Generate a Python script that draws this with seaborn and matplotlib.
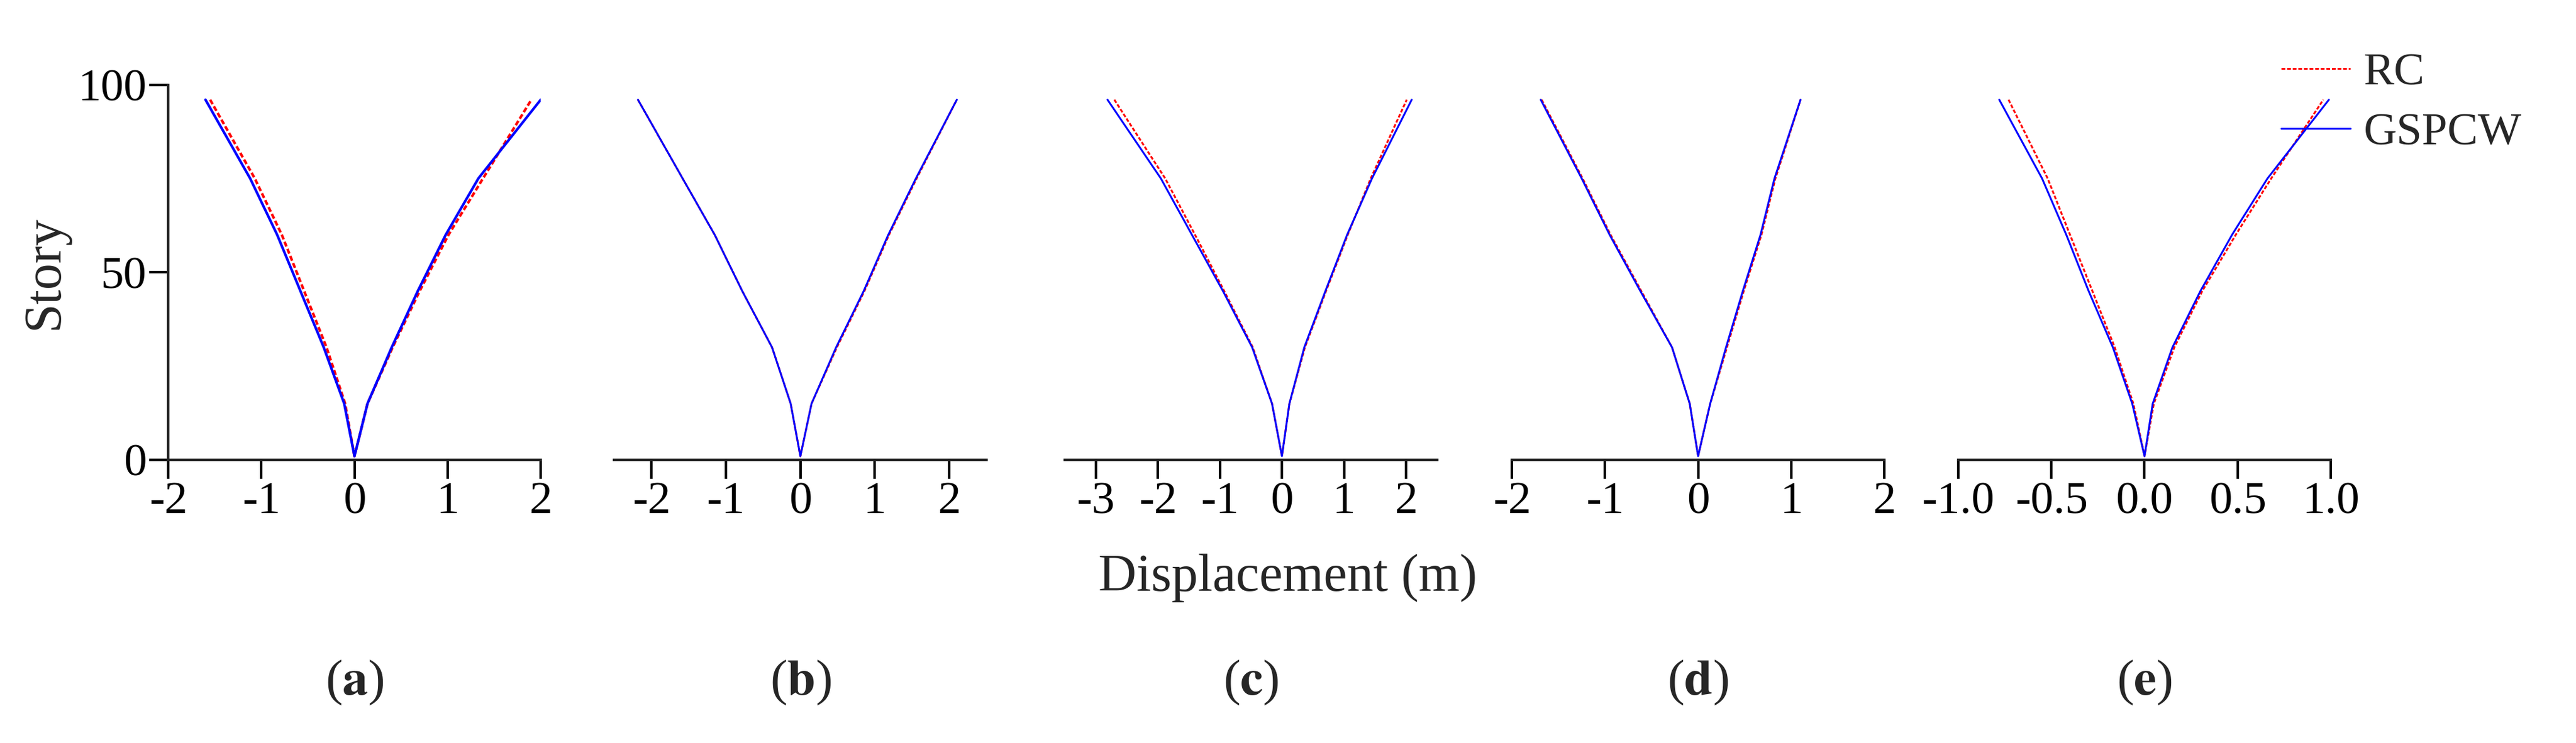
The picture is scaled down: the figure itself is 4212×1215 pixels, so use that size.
import numpy as np
import pandas as pd
import matplotlib
matplotlib.use("Agg")
import matplotlib.pyplot as plt
import seaborn as sns

sns.set_theme(style="ticks")
plt.rcParams['font.family'] = ['Liberation Serif', 'DejaVu Serif']
plt.rcParams['mathtext.fontset'] = 'stix'

stories = [1, 15, 30, 45, 60, 75, 96]
panels = ["a", "b", "c", "d", "e"]
gsp_left = {
    "a": [0, -0.11, -0.33, -0.58, -0.83, -1.12, -1.60],
    "b": [0, -0.13, -0.38, -0.78, -1.15, -1.58, -2.18],
    "c": [0, -0.16, -0.48, -0.95, -1.45, -1.95, -2.81],
    "d": [0, -0.09, -0.28, -0.62, -0.95, -1.25, -1.69],
    "e": [0, -0.066, -0.17, -0.30, -0.42, -0.55, -0.78],
}
gsp_right = {
    "a": [0, 0.14, 0.40, 0.68, 0.98, 1.33, 2.00],
    "b": [0, 0.15, 0.48, 0.85, 1.18, 1.55, 2.10],
    "c": [0, 0.12, 0.36, 0.70, 1.05, 1.45, 2.09],
    "d": [0, 0.13, 0.30, 0.48, 0.67, 0.82, 1.10],
    "e": [0, 0.044, 0.15, 0.30, 0.47, 0.66, 0.99],
}
rc_left = {
    "a": [0, -0.10, -0.30, -0.54, -0.78, -1.07, -1.55],
    "b": [0, -0.13, -0.38, -0.78, -1.15, -1.58, -2.18],
    "c": [0, -0.16, -0.47, -0.93, -1.40, -1.88, -2.70],
    "d": [0, -0.09, -0.28, -0.61, -0.94, -1.24, -1.68],
    "e": [0, -0.06, -0.16, -0.28, -0.40, -0.52, -0.73],
}
rc_right = {
    "a": [0, 0.14, 0.41, 0.70, 1.01, 1.38, 1.90],
    "b": [0, 0.15, 0.49, 0.86, 1.19, 1.56, 2.10],
    "c": [0, 0.12, 0.37, 0.71, 1.06, 1.43, 2.01],
    "d": [0, 0.13, 0.31, 0.49, 0.68, 0.83, 1.10],
    "e": [0, 0.05, 0.16, 0.31, 0.49, 0.68, 0.96],
}
xlims = {"a": (-2, 2), "b": (-2.5, 2.5), "c": (-3.5, 2.5), "d": (-2, 2), "e": (-1, 1)}
xticks = {"a": [-2, -1, 0, 1, 2], "b": [-2, -1, 0, 1, 2], "c": [-3, -2, -1, 0, 1, 2],
          "d": [-2, -1, 0, 1, 2], "e": [-1.0, -0.5, 0.0, 0.5, 1.0]}
lefts = [0.0653, 0.2384, 0.4133, 0.5869, 0.7602]
w = 0.1446

fig = plt.figure(figsize=(42.12, 12.15), dpi=100)
fs = 54
for i, p in enumerate(panels):
    ax = fig.add_axes([lefts[i], 0.381, w, 0.505])
    rows = []
    for name, L, R in [("RC", rc_left, rc_right), ("GSPCW", gsp_left, gsp_right)]:
        xs = list(L[p][::-1]) + list(R[p][1:])
        ys = stories[::-1] + stories[1:]
        for k, (x, y) in enumerate(zip(xs, ys)):
            rows.append({"series": name, "x": x, "y": y, "ord": k})
    df = pd.DataFrame(rows)
    lw = 3.0 if p == "a" else 2.2
    sns.lineplot(data=df[df.series == "RC"], x="x", y="y", sort=False, estimator=None,
                 color="red", linestyle=(0, (2, 1)), linewidth=lw, ax=ax, label="RC")
    sns.lineplot(data=df[df.series == "GSPCW"], x="x", y="y", sort=False, estimator=None,
                 color="blue", linewidth=lw, ax=ax, label="GSPCW")
    ax.get_legend().remove()
    ax.set_xlim(*xlims[p])
    ax.set_ylim(0, 100)
    ax.set_xticks(xticks[p])
    if p == "e":
        ax.set_xticklabels([f"{t:.1f}" for t in xticks[p]])
    else:
        ax.set_xticklabels([f"{t:g}" for t in xticks[p]])
    ax.set_xlabel("")
    ax.set_ylabel("")
    for s in ["top", "right"]:
        ax.spines[s].set_visible(False)
    ax.spines["bottom"].set_linewidth(3)
    ax.spines["left"].set_linewidth(3)
    ax.tick_params(labelsize=fs, width=3, length=22, colors="black")
    if i == 0:
        ax.set_yticks([0, 50, 100])
        ax.set_ylabel("Story", fontsize=62, labelpad=10)
    else:
        ax.spines["left"].set_visible(False)
        ax.set_yticks([])
    ax.patch.set_alpha(0)
    fig.text(lefts[i] + w / 2, 0.081, f"(" + r"$\mathbf{" + p + "}$" + ")", ha="center",
             va="center", fontsize=60)
    if i == 4:
        h, l = ax.get_legend_handles_labels()

fig.text(0.5, 0.222, "Displacement (m)", ha="center", va="center", fontsize=62)
fig.legend(h, l, loc="upper right", bbox_to_anchor=(0.995, 0.985), frameon=False,
           fontsize=54, handlelength=1.5, handletextpad=0.3, labelspacing=0.4)
fig.savefig("out.png", dpi=100)
